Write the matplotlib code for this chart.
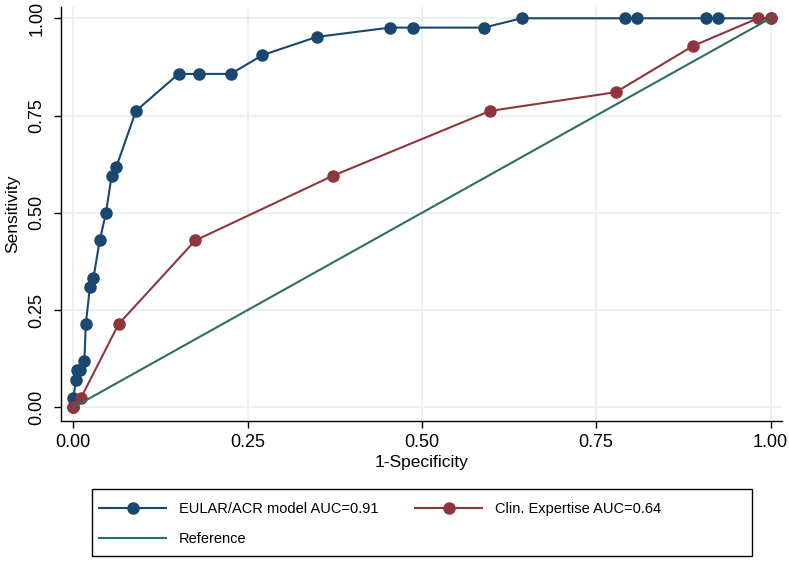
import matplotlib
matplotlib.use("Agg")
import matplotlib.pyplot as plt
from matplotlib.patches import Rectangle

plt.rcParams['font.family'] = ['Liberation Sans', 'DejaVu Sans']

# EULAR/ACR model ROC points (1-specificity, sensitivity)
eular_fpr = [0.000, 0.000, 0.004, 0.005, 0.010, 0.016, 0.018, 0.024, 0.029,
             0.038, 0.047, 0.055, 0.062, 0.090, 0.151, 0.181, 0.226, 0.271,
             0.349, 0.454, 0.488, 0.589, 0.643, 0.791, 0.808, 0.908, 0.924,
             1.000]
eular_tpr = [0.000, 0.024, 0.071, 0.095, 0.095, 0.119, 0.214, 0.310, 0.333,
             0.429, 0.500, 0.595, 0.619, 0.762, 0.857, 0.857, 0.857, 0.905,
             0.952, 0.976, 0.976, 0.976, 1.000, 1.000, 1.000, 1.000, 1.000,
             1.000]

# clinical expertise ROC points
clin_fpr = [0.000, 0.011, 0.065, 0.175, 0.372, 0.598, 0.778, 0.889, 0.982, 1.000]
clin_tpr = [0.000, 0.024, 0.214, 0.429, 0.595, 0.762, 0.810, 0.929, 1.000, 1.000]

ref_x = [0, 1]
ref_y = [0, 1]

ticks = [0, 0.25, 0.5, 0.75, 1.0]
tick_labels = ["0.00", "0.25", "0.50", "0.75", "1.00"]

navy = '#1a476f'
maroon = '#90353b'
teal = '#2d6e64'

fig = plt.figure(figsize=(7.89, 5.64), dpi=100)
ax = fig.add_axes([0.0769, 0.2535, 0.9138, 0.7341])

h1, = ax.plot(eular_fpr, eular_tpr, color=navy, lw=1.5, marker='o', ms=8,
              label='EULAR/ACR model AUC=0.91', zorder=3)
h2, = ax.plot(clin_fpr, clin_tpr, color=maroon, lw=1.5, marker='o', ms=8,
              label='Clin. Expertise AUC=0.64', zorder=4)
h3, = ax.plot(ref_x, ref_y, color=teal, lw=1.5, label='Reference', zorder=5)

ax.set_xlim(-0.018, 1.016)
ax.set_ylim(-0.035, 1.029)
ax.set_xticks(ticks)
ax.set_xticklabels(tick_labels)
ax.set_yticks(ticks)
ax.set_yticklabels(tick_labels, rotation=90, va='center')

ax.grid(True, color='#e6eff1', lw=1.2)
ax.set_axisbelow(True)
for s in ['top', 'right']:
    ax.spines[s].set_visible(False)
for s in ['left', 'bottom']:
    ax.spines[s].set_linewidth(1.0)

ax.tick_params(axis='both', direction='out', length=5, width=1, labelsize=13)
ax.tick_params(axis='x', pad=4)
ax.tick_params(axis='y', pad=6)

ax.set_xlabel('1-Specificity', fontsize=12.5, labelpad=3)
ax.set_ylabel('Sensitivity', fontsize=12.5, labelpad=6)

# legend: row-wise order, box drawn separately to match the wide frame
leg = fig.legend([h1, h3, h2], [h1.get_label(), h3.get_label(), h2.get_label()],
                 loc='upper left', bbox_to_anchor=(99 / 789, 1 - 502 / 564),
                 ncol=2, fontsize=10.5, frameon=False, handlelength=4.6,
                 handletextpad=0.9, labelspacing=1.1, columnspacing=2.5,
                 borderpad=0, borderaxespad=0)
fig.patches.append(Rectangle((92 / 789, 1 - 556 / 564), 660 / 789, 67 / 564,
                             transform=fig.transFigure, fill=False,
                             ec='black', lw=1.0))

fig.savefig('out.png', dpi=100)
